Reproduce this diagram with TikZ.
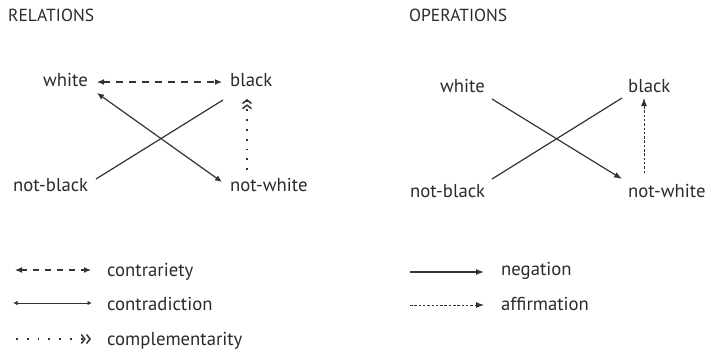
\documentclass[tikz,border=0pt]{standalone}
\usepackage{fontspec}
\setmainfont{PT Sans}
\usetikzlibrary{arrows.meta}
\definecolor{ink}{HTML}{2B2B2B}
\definecolor{stroke}{HTML}{333333}
\begin{document}
\begin{tikzpicture}[x=1pt,y=-1pt,
  lbl/.style={anchor=base west,inner sep=0pt,text=ink,font=\fontsize{18.7}{21}\selectfont},
  head/.style={anchor=base west,inner sep=0pt,text=ink,font=\fontsize{17.5}{20}\selectfont},
  conn/.style={draw=stroke,line width=1.2pt},
  contrary/.style={conn,dash pattern=on 7pt off 6pt,{Latex[length=7pt,width=6pt]}-{Latex[length=7pt,width=6pt]}},
  contradict/.style={conn,{Latex[length=7pt,width=6pt]}-{Latex[length=7pt,width=6pt]}},
  complement/.style={conn,line width=1.6pt,dash pattern=on 1.8pt off 8pt,-{Straight Barb[length=3.5pt,width=9pt,line width=1.5pt] Straight Barb[length=3.5pt,width=9pt,line width=1.5pt]}},
  negate/.style={conn,-{Latex[length=8pt,width=6pt]}},
  affirm/.style={conn,line width=1pt,dash pattern=on 2.5pt off 1.8pt,-{Latex[length=8pt,width=6pt]}},
]
\useasboundingbox[fill=white] (0,0) rectangle (705,351);

% headings
\node[head] (hrel) at (8,21) {RELATIONS};
\node[head] (hop) at (409,21) {OPERATIONS};

% ---- relations square ----
\node[lbl] (w)  at (43,86)  {white};
\node[lbl] (b)  at (230,86) {black};
\node[lbl] (nb) at (13,191) {not-black};
\node[lbl] (nw) at (230,191) {not-white};

\draw[contrary] ([xshift=54pt,yshift=4pt]w.base west) -- ([xshift=-8pt,yshift=4pt]b.base west);
\draw[contradict] ([xshift=54pt,yshift=-7pt]w.base west) -- ([xshift=-8pt,yshift=9pt]nw.base west);
\draw[conn] ([xshift=83pt,yshift=12pt]nb.base west) -- ([xshift=-7pt,yshift=-14pt]b.base west);
\draw[complement] ([xshift=17pt,yshift=21pt]nw.base west) -- ([xshift=17pt,yshift=-13pt]b.base west);

% ---- operations square ----
\node[lbl] (w2)  at (440,92)  {white};
\node[lbl] (b2)  at (628,92)  {black};
\node[lbl] (nb2) at (410,197) {not-black};
\node[lbl] (nw2) at (628,197) {not-white};

\draw[negate] ([xshift=52pt,yshift=-7pt]w2.base west) -- ([xshift=-6pt,yshift=18pt]nw2.base west);
\draw[conn] ([xshift=82pt,yshift=18pt]nb2.base west) -- ([xshift=-6pt,yshift=-6pt]b2.base west);
\draw[affirm] ([xshift=16pt,yshift=24pt]nw2.base west) -- ([xshift=16pt,yshift=-6pt]b2.base west);

% ---- legend: relations ----
\node[lbl] (lcy) at (107,276) {contrariety};
\node[lbl] (lcd) at (107,310) {contradiction};
\node[lbl] (lcm) at (107,345) {complementarity};
\coordinate (cy1) at (15,270);  \coordinate (cy2) at (91,270);
\coordinate (cd1) at (13,303);  \coordinate (cd2) at (92,303);
\coordinate (cm1) at (16,339);  \coordinate (cm2) at (91,339);
\draw[contrary,dash pattern=on 6pt off 6pt] (cy1) -- (cy2);
\draw[conn,line width=1pt,{Latex[length=4.5pt,width=4.5pt]}-{Latex[length=4.5pt,width=4.5pt]}] (cd1) -- (cd2);
\draw[complement,dash pattern=on 1.8pt off 9pt] (cm1) -- (cm2);

% ---- legend: operations ----
\node[lbl] (lng) at (501,275) {negation};
\node[lbl] (laf) at (501,310) {affirmation};
\coordinate (ng1) at (410,272); \coordinate (ng2) at (484,272);
\coordinate (af1) at (410,305); \coordinate (af2) at (484,305);
\draw[negate] (ng1) -- (ng2);
\draw[affirm] (af1) -- (af2);
\end{tikzpicture}
\end{document}
